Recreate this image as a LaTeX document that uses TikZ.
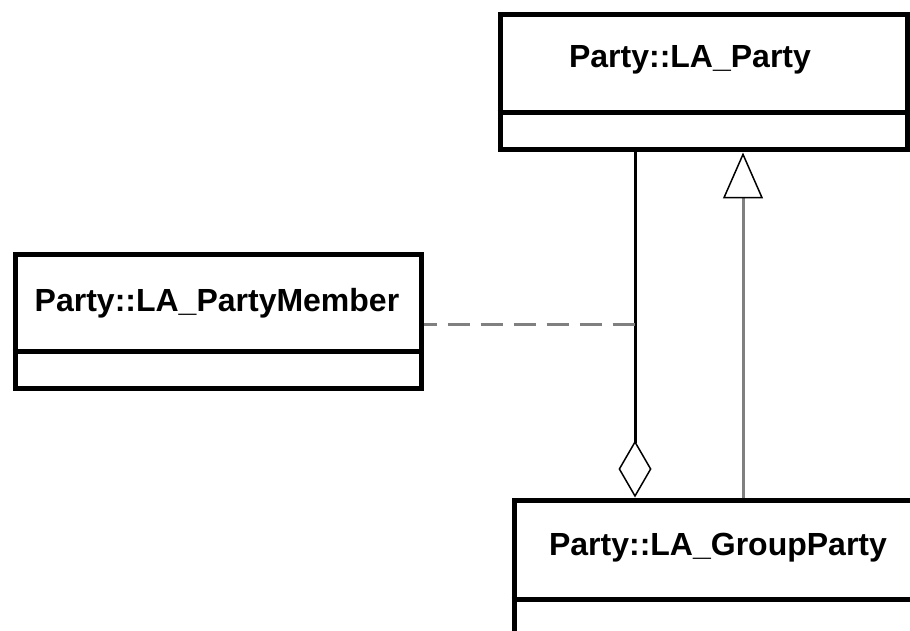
\documentclass[tikz,border=0pt]{standalone}
\usepackage{fontspec}
\setmainfont{Liberation Sans}
\usetikzlibrary{arrows.meta}
\definecolor{linkgray}{RGB}{128,128,128}
\tikzset{
  classbox/.style={draw=black, line width=5pt, fill=white, inner sep=0pt},
  classname/.style={font=\fontsize{32}{38}\selectfont\bfseries, inner sep=0pt, anchor=center},
  divider/.style={draw=black, line width=5pt},
  assoc/.style={draw=black, line width=3pt},
  realize/.style={draw=linkgray, line width=3pt},
  assoclass/.style={draw=linkgray, line width=3pt, dash pattern=on 22pt off 11pt, dash phase=9pt}
}
\begin{document}
\begin{tikzpicture}[x=1pt, y=-1pt]
  \useasboundingbox (0,0) rectangle (910,631);
  \clip (0,0) rectangle (910,631);
  \fill[white] (0,0) rectangle (910,631);

  % class Party::LA_Party
  \node[classbox, minimum width=407pt, minimum height=135pt] (party) at (703.5,82.5) {};
  \coordinate (partydiv) at (0,113);
  \draw[divider] (party.west |- partydiv) -- (party.east |- partydiv);
  \node[classname] (partyname) at (690,60) {Party::LA\_Party};

  % class Party::LA_PartyMember
  \node[classbox, minimum width=406pt, minimum height=134pt] (member) at (218,321) {};
  \coordinate (memberdiv) at (0,351);
  \draw[divider] (member.west |- memberdiv) -- (member.east |- memberdiv);
  \node[classname] (membername) at (217,303) {Party::LA\_PartyMember};

  % class Party::LA_GroupParty
  \node[classbox, minimum width=460pt, minimum height=200pt] (group) at (744,600) {};
  \coordinate (groupdiv) at (0,599);
  \draw[divider] (group.west |- groupdiv) -- (group.east |- groupdiv);
  \node[classname] (groupname) at (718,548) {Party::LA\_GroupParty};

  % aggregation: Party -- GroupParty, open diamond at the group end
  \coordinate (aggx) at (635,0);
  \draw[assoc, -{Diamond[open, length=57pt, width=33pt, line width=1.5pt, fill=white]}]
    (party.south -| aggx) -- (group.north -| aggx);

  % association class link
  \coordinate (joint) at (635,324);
  \draw[assoclass] (member.east |- joint) -- (joint);

  % generalization: GroupParty -> Party
  \coordinate (genx) at (743,0);
  \draw[realize, -{Triangle[open, length=46pt, width=40pt, line width=1.5pt, color=black, fill=white]}]
    (group.north -| genx) -- (party.south -| genx);
\end{tikzpicture}
\end{document}
